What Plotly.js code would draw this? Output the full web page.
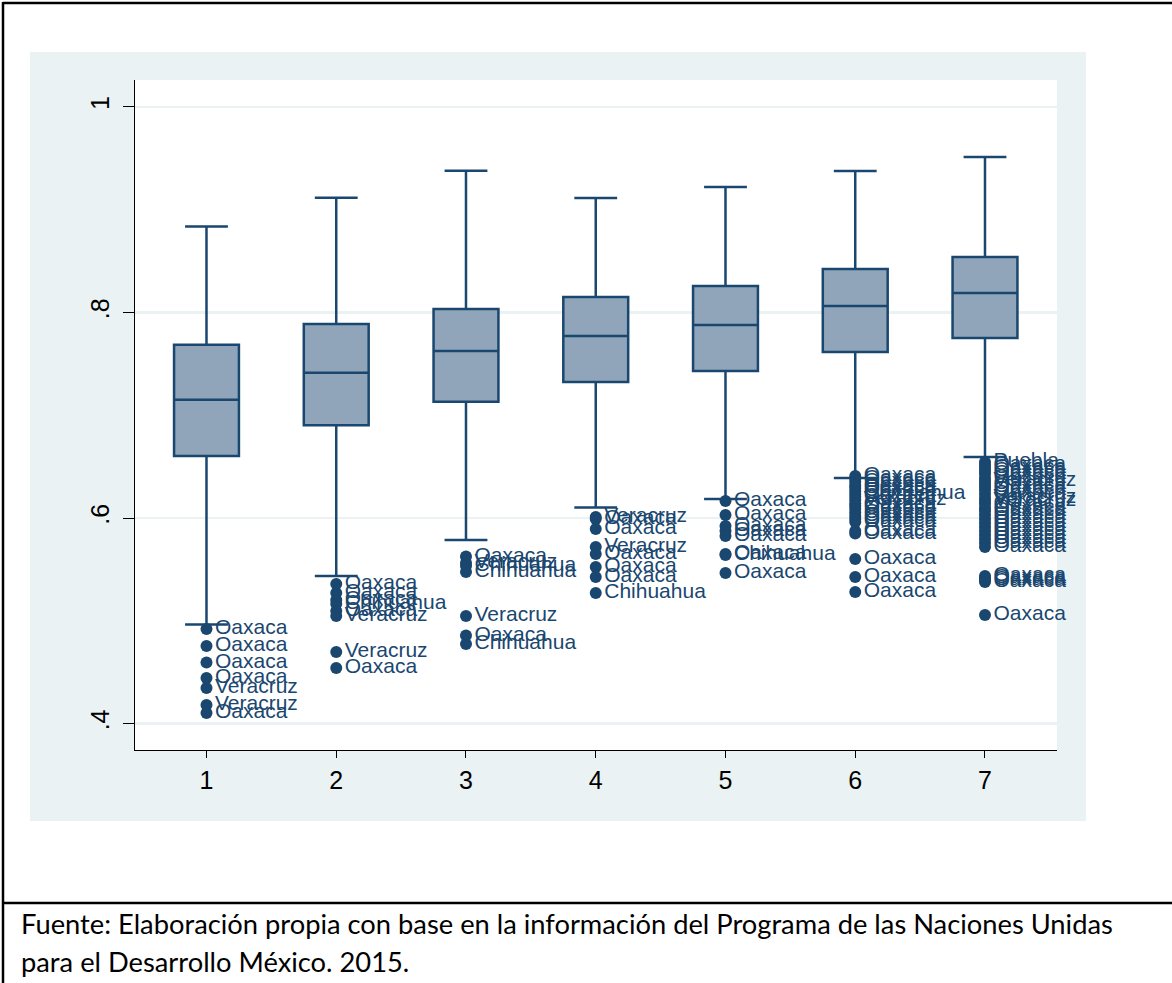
<!DOCTYPE html>
<html>
<head>
<meta charset="utf-8">
<script src="https://cdn.plot.ly/plotly-3.0.1.min.js"></script>
<style>
  html, body { margin: 0; padding: 0; background: #ffffff; }
  #chart { width: 1172px; height: 983px; }
</style>
</head>
<body>
<div id="chart"></div>
<script>
// Índice por grupo (1–7): estadísticos de cada caja
const groups      = [1, 2, 3, 4, 5, 6, 7];
const lowerFence  = [0.4964, 0.5436, 0.5787, 0.6103, 0.6185, 0.6390, 0.6594];
const q1Values    = [0.6604, 0.6902, 0.7132, 0.7323, 0.7430, 0.7615, 0.7751];
const medians     = [0.7152, 0.7414, 0.7625, 0.7771, 0.7878, 0.8062, 0.8189];
const q3Values    = [0.7686, 0.7887, 0.8033, 0.8150, 0.8257, 0.8422, 0.8539];
const upperFence  = [0.8837, 0.9116, 0.9378, 0.9113, 0.9220, 0.9375, 0.9512];

// Valores atípicos con el estado al que pertenecen
const outGroup1 = [0.4921, 0.4756, 0.4594, 0.4444, 0.4347, 0.4182, 0.4104];
const outState1 = ["Oaxaca", "Oaxaca", "Oaxaca", "Oaxaca", "Veracruz", "Veracruz", "Oaxaca"];

const outGroup2 = [0.5359, 0.5271, 0.5203, 0.5164, 0.5096, 0.5047, 0.4697, 0.4542];
const outState2 = ["Oaxaca", "Oaxaca", "Oaxaca", "Chihuahua", "Oaxaca", "Veracruz", "Veracruz", "Oaxaca"];

const outGroup3 = [0.5626, 0.5563, 0.5534, 0.5475, 0.5047, 0.4858, 0.4775];
const outState3 = ["Oaxaca", "Veracruz", "Chihuahua", "Chihuahua", "Veracruz", "Oaxaca", "Chihuahua"];

const outGroup4 = [0.6010, 0.5991, 0.5894, 0.5719, 0.5650, 0.5524, 0.5427, 0.5271];
const outState4 = ["Veracruz", "Oaxaca", "Oaxaca", "Veracruz", "Oaxaca", "Oaxaca", "Oaxaca", "Chihuahua"];

const outGroup5 = [0.6166, 0.6030, 0.5923, 0.5874, 0.5826, 0.5650, 0.5641, 0.5466];
const outState5 = ["Oaxaca", "Oaxaca", "Oaxaca", "Oaxaca", "Oaxaca", "Oaxaca", "Chihuahua", "Oaxaca"];

const outGroup6 = [0.6409, 0.6380, 0.6351, 0.6317, 0.6292, 0.6263, 0.6234, 0.6205, 0.6176,
                   0.6142, 0.6117, 0.6088, 0.6054, 0.6020, 0.5991, 0.5962, 0.5874, 0.5850,
                   0.5602, 0.5427, 0.5281];
const outState6 = ["Oaxaca", "Oaxaca", "Oaxaca", "Oaxaca", "Oaxaca", "Oaxaca", "Chihuahua", "Oaxaca", "Veracruz",
                   "Oaxaca", "Oaxaca", "Oaxaca", "Oaxaca", "Oaxaca", "Oaxaca", "Oaxaca", "Oaxaca", "Oaxaca",
                   "Oaxaca", "Oaxaca", "Oaxaca"];

const outGroup7 = [0.6545, 0.6516, 0.6487, 0.6458, 0.6428, 0.6390, 0.6360, 0.6331, 0.6302,
                   0.6273, 0.6234, 0.6195, 0.6166, 0.6137, 0.6098, 0.6069, 0.6030, 0.5991,
                   0.5952, 0.5913, 0.5874, 0.5835, 0.5796, 0.5757, 0.5719,
                   0.5436, 0.5417, 0.5398, 0.5378, 0.5057];
const outState7 = ["Puebla", "Oaxaca", "Oaxaca", "Oaxaca", "Oaxaca", "Oaxaca", "Veracruz", "Oaxaca", "Oaxaca",
                   "Oaxaca", "Oaxaca", "Veracruz", "Veracruz", "Oaxaca", "Oaxaca", "Oaxaca", "Oaxaca", "Oaxaca",
                   "Oaxaca", "Oaxaca", "Oaxaca", "Oaxaca", "Oaxaca", "Oaxaca", "Oaxaca",
                   "Oaxaca", "Oaxaca", "Oaxaca", "Oaxaca", "Oaxaca"];

const yTickVals  = [0.4, 0.6, 0.8, 1.0];
const yTickText  = [".4", ".6", ".8", "1"];
const xTickText  = ["1", "2", "3", "4", "5", "6", "7"];

const footLine1 = "Fuente: Elaboración propia con base en la información del Programa de las Naciones Unidas";
const footLine2 = "para el Desarrollo México. 2015.";

// ---- styling ----
const NAVY = "#1a476f";
const BOX_FILL = "#90a5b9";
const REGION = "#eaf2f3";
const SANS = "Arial, 'Liberation Sans', sans-serif";
const W = 1172, H = 983;
const plotL = 135, plotR = 1057, plotT = 80, plotB = 750;

// page pixel -> paper fraction
const px = v => (v - plotL) / (plotR - plotL);
const py = v => (plotB - v) / (plotB - plotT);

const outVals = [outGroup1, outGroup2, outGroup3, outGroup4, outGroup5, outGroup6, outGroup7];
const outNames = [outState1, outState2, outState3, outState4, outState5, outState6, outState7];
const ox = [], oy = [], ot = [];
outVals.forEach((vals, i) => {
  vals.forEach((v, j) => { ox.push(groups[i]); oy.push(v); ot.push(outNames[i][j]); });
});

const boxTrace = {
  type: "box",
  x: groups,
  q1: q1Values,
  median: medians,
  q3: q3Values,
  lowerfence: lowerFence,
  upperfence: upperFence,
  width: 0.5,
  whiskerwidth: 0.66,
  boxpoints: false,
  fillcolor: BOX_FILL,
  line: { color: NAVY, width: 2.5 },
  hoverinfo: "skip",
  showlegend: false
};

const outlierTrace = {
  type: "scatter",
  mode: "markers+text",
  x: ox,
  y: oy,
  text: ot,
  textposition: "middle right",
  textfont: { family: SANS, size: 21, color: NAVY },
  marker: { color: NAVY, size: 12, line: { width: 0 } },
  cliponaxis: false,
  hoverinfo: "skip",
  showlegend: false
};

const shapes = [
  // graph region
  { type: "rect", xref: "paper", yref: "paper", layer: "below",
    x0: px(30), x1: px(1086), y0: py(821), y1: py(52),
    fillcolor: REGION, line: { width: 0 } },
  // plot region
  { type: "rect", xref: "paper", yref: "paper", layer: "below",
    x0: 0, x1: 1, y0: 0, y1: 1, fillcolor: "#ffffff", line: { width: 0 } },
  // outer frame lines
  { type: "line", xref: "paper", yref: "paper", x0: px(3), x1: px(1172), y0: py(3), y1: py(3),
    line: { color: "#000000", width: 2.5 } },
  { type: "line", xref: "paper", yref: "paper", x0: px(3), x1: px(3), y0: py(2), y1: py(983),
    line: { color: "#000000", width: 2.5 } },
  { type: "line", xref: "paper", yref: "paper", x0: px(3), x1: px(1172), y0: py(903), y1: py(903),
    line: { color: "#000000", width: 2.5 } }
];

const footFont = { family: "Lato, 'Open Sans', sans-serif", size: 27.3, color: "#000000" };
const annotations = [
  { xref: "paper", yref: "paper", x: px(19), y: py(924), xanchor: "left", yanchor: "middle",
    text: footLine1, showarrow: false, font: footFont },
  { xref: "paper", yref: "paper", x: px(19), y: py(961), xanchor: "left", yanchor: "middle",
    text: footLine2, showarrow: false, font: footFont }
];

const layout = {
  width: W,
  height: H,
  margin: { l: plotL, r: W - plotR, t: plotT, b: H - plotB, pad: 0 },
  paper_bgcolor: "#ffffff",
  plot_bgcolor: "rgba(0,0,0,0)",
  showlegend: false,
  font: { family: SANS, size: 25, color: "#000000" },
  xaxis: {
    range: [0.449, 7.555],
    tickmode: "array",
    tickvals: groups,
    ticktext: xTickText,
    showgrid: false,
    zeroline: false,
    showline: true,
    linecolor: "#000000",
    linewidth: 1,
    ticks: "outside",
    ticklen: 7,
    tickcolor: "#000000",
    ticklabelstandoff: 1,
    tickfont: { family: SANS, size: 25 }
  },
  yaxis: {
    range: [0.3744, 1.0261],
    tickmode: "array",
    tickvals: yTickVals,
    ticktext: yTickText,
    tickangle: -90,
    showgrid: true,
    gridcolor: REGION,
    gridwidth: 2.5,
    zeroline: false,
    showline: true,
    linecolor: "#000000",
    linewidth: 1,
    ticks: "outside",
    ticklen: 11,
    tickcolor: "#000000",
    ticklabelstandoff: 4,
    tickfont: { family: SANS, size: 25 }
  },
  shapes: shapes,
  annotations: annotations
};

Plotly.newPlot("chart", [boxTrace, outlierTrace], layout, { displayModeBar: false, staticPlot: true });
</script>
</body>
</html>
